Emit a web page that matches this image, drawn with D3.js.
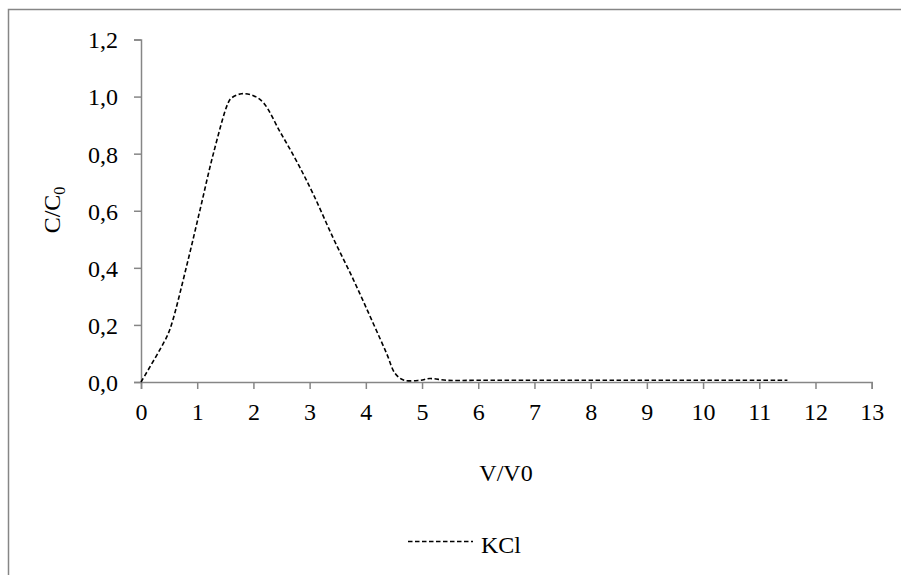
<!DOCTYPE html>
<html>
<head>
<meta charset="utf-8">
<script src="https://cdn.jsdelivr.net/npm/d3@7"></script>
<style>
  html, body { margin: 0; padding: 0; background: #fff; }
  svg { display: block; }
  text { font-family: "Liberation Serif", "Times New Roman", serif; fill: #000; }
</style>
</head>
<body>
<svg id="chart" width="901" height="575"></svg>
<script>
// ---- data ----
const vRatio = [0, 0.46, 0.55, 0.81, 1.05, 1.29, 1.55, 1.61, 1.79, 2.0, 2.18, 2.47, 2.77, 3.07, 3.42, 3.78, 4.13, 4.37, 4.52, 4.67, 4.96, 5.14, 5.44, 6, 7, 8, 9, 10, 11, 11.5];
const kclConc = [0, 0.159, 0.206, 0.405, 0.603, 0.802, 0.978, 0.995, 1.01, 1.003, 0.978, 0.878, 0.773, 0.656, 0.504, 0.358, 0.206, 0.10, 0.030, 0.007, 0.006, 0.012, 0.006, 0.006, 0.006, 0.006, 0.006, 0.006, 0.006, 0.006];
const xTicks = [0, 1, 2, 3, 4, 5, 6, 7, 8, 9, 10, 11, 12, 13];
const yTicks = [0, 0.2, 0.4, 0.6, 0.8, 1.0, 1.2];
const seriesName = "KCl";

// ---- layout ----
const svg = d3.select("#chart");
const axisColor = "#868686";
const x = d3.scaleLinear().domain([0, 13]).range([141, 871.7]);
const y = d3.scaleLinear().domain([0, 1.2]).range([382, 39.5]);

// outer border
svg.append("rect")
  .attr("x", 8.5).attr("y", 9.5)
  .attr("width", 901).attr("height", 575)
  .attr("fill", "none").attr("stroke", axisColor).attr("stroke-width", 1.5);

const fmt = d => d3.format(".1f")(d).replace(".", ",");

// y axis
const yAxis = svg.append("g").attr("transform", `translate(${x(0)},0)`)
  .call(d3.axisLeft(y).tickValues(yTicks).tickSize(7).tickPadding(16).tickFormat(fmt));
yAxis.select(".domain").attr("stroke", axisColor).attr("stroke-width", 1.5);
yAxis.selectAll(".tick line").attr("stroke", axisColor).attr("stroke-width", 1.5);
yAxis.selectAll(".tick text")
  .attr("font-family", "Liberation Serif").attr("font-size", 24).attr("fill", "#000")
  .attr("dy", "0.35em");

// x axis
const xAxis = svg.append("g").attr("transform", `translate(0,${y(0)})`)
  .call(d3.axisBottom(x).tickValues(xTicks).tickSize(7).tickPadding(14).tickFormat(d3.format("d")));
xAxis.select(".domain").attr("stroke", axisColor).attr("stroke-width", 1.5);
xAxis.selectAll(".tick line").attr("stroke", axisColor).attr("stroke-width", 1.5);
xAxis.selectAll(".tick text")
  .attr("font-family", "Liberation Serif").attr("font-size", 24).attr("fill", "#000");

// line
const pts = vRatio.map((v, i) => [v, kclConc[i]]);
const line = d3.line().x(d => x(d[0])).y(d => y(d[1])).curve(d3.curveCatmullRom.alpha(0.5));
svg.append("path").datum(pts)
  .attr("d", line)
  .attr("fill", "none").attr("stroke", "#000")
  .attr("stroke-width", 1.6).attr("stroke-dasharray", "4.5,2.5");

// axis titles
const yt = svg.append("text")
  .attr("transform", "translate(60,210) rotate(-90)")
  .attr("text-anchor", "middle").attr("font-size", 24);
yt.append("tspan").text("C/C");
yt.append("tspan").attr("font-size", 16).attr("dy", 5).text("0");

svg.append("text").attr("x", 506).attr("y", 481)
  .attr("text-anchor", "middle").attr("font-size", 24).text("V/V0");

// legend
svg.append("line").attr("x1", 408).attr("x2", 473).attr("y1", 541.5).attr("y2", 541.5)
  .attr("stroke", "#000").attr("stroke-width", 1.6).attr("stroke-dasharray", "4.5,2.5");
svg.append("text").attr("x", 481).attr("y", 552.5).attr("font-size", 24).text(seriesName);
</script>
</body>
</html>
